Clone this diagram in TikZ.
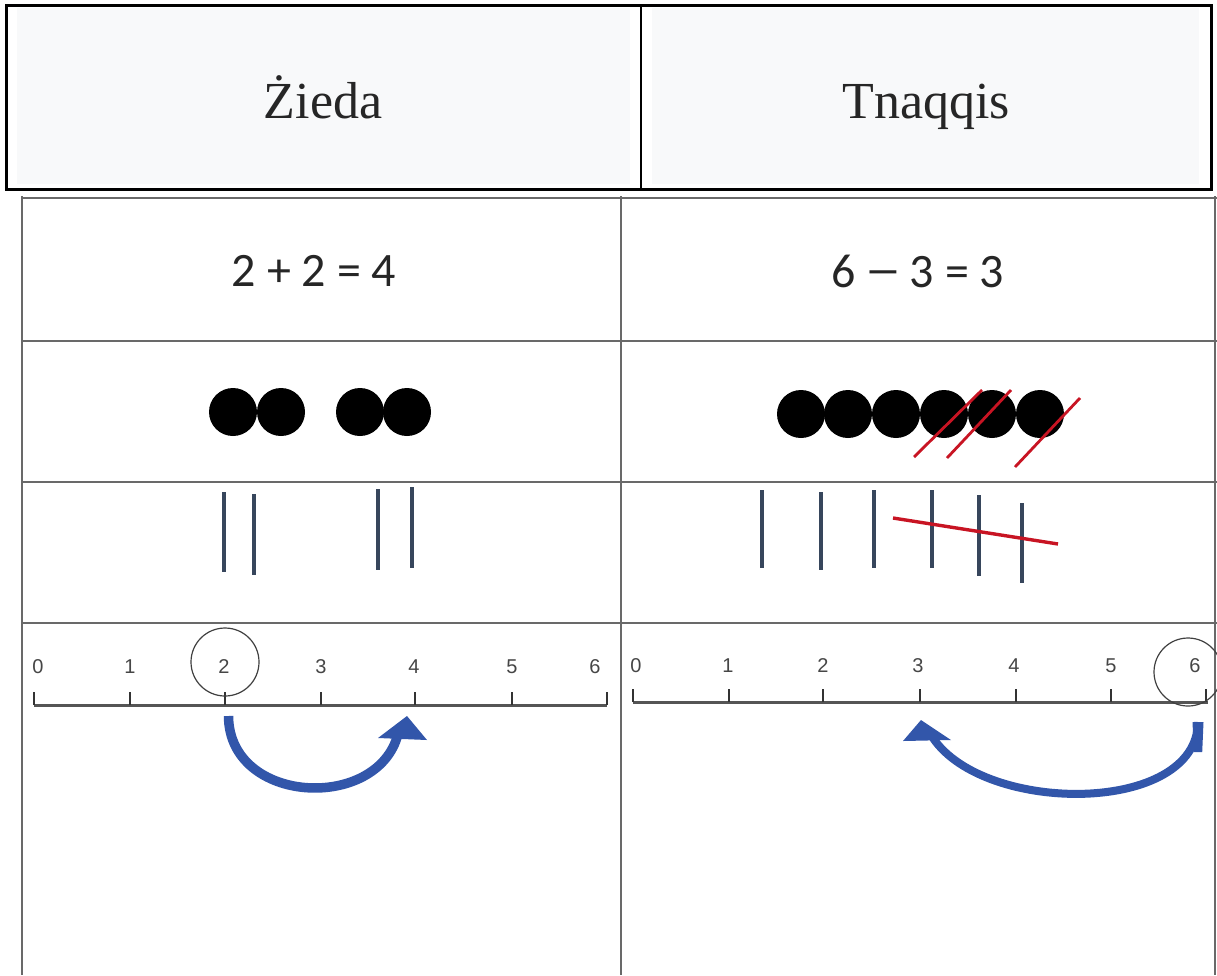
\documentclass[tikz,border=0pt]{standalone}
\usepackage{fontspec}
\usepackage{graphicx}
\setmainfont{Liberation Serif}
\newfontfamily\eqfont{Carlito}
\newfontfamily\nlfont{Liberation Sans}
\definecolor{hdrgray}{RGB}{248,249,250}
\definecolor{tblline}{RGB}{105,105,105}
\definecolor{tally}{RGB}{55,70,92}
\definecolor{strike}{RGB}{200,20,35}
\definecolor{arrowblue}{RGB}{50,86,170}
\definecolor{axisgray}{RGB}{85,85,85}
\definecolor{labgray}{RGB}{70,70,70}
\tikzset{
  hdrtext/.style={font=\fontsize{52}{60}\selectfont, text=black!85, anchor=base},
  eqtext/.style={font=\eqfont\fontsize{48}{56}\selectfont, text=black!85},
  numlab/.style={font=\nlfont\fontsize{20}{24}\selectfont, text=labgray},
  tline/.style={draw=tblline, line width=2pt},
  dot/.style={circle, fill=black, minimum size=48pt, inner sep=0pt},
  tallymark/.style={draw=tally, line width=3.4pt},
  strikeline/.style={draw=strike, line width=2.8pt},
  axisline/.style={draw=axisgray, line width=3pt},
  tickmark/.style={draw=black!80, line width=2pt},
  ring/.style={draw=black!75, line width=1.2pt},
  arrowstroke/.style={draw=arrowblue, line width=9pt},
  arrowbody/.style={fill=arrowblue}
}
\begin{document}
\begin{tikzpicture}[x=1pt,y=-1pt]
\useasboundingbox (0,0) rectangle (1217,975);
\fill[white] (0,0) rectangle (1217,975);
% header
\fill[hdrgray] (17,8) rectangle (630,184);
\fill[hdrgray] (652,8) rectangle (1199,184);
\draw[black, line width=3pt] (6,5) rectangle (1211,189);
\draw[black, line width=2pt] (641,5) -- (641,189);
\node[hdrtext] (h1) at (323,118) {Żieda};
\node[hdrtext] (h2) at (926,118) {Tnaqqis};
% table grid
\draw[tline] (22,198) -- (1217,198);
\draw[tline] (22,341) -- (1217,341);
\draw[tline] (22,482) -- (1217,482);
\draw[tline] (22,623) -- (1217,623);
\draw[tline] (22,196) -- (22,975);
\draw[tline] (621,196) -- (621,975);
\draw[tline] (1215,196) -- (1215,975);
% equations
\node[eqtext] (eq1) at (314,271) {2 + 2 = 4};
\node[eqtext] (eq2) at (918,271) {6 \hspace{-2pt}\scalebox{1.5}[1]{−}\hspace{-2pt} 3 = 3};
% dots left
\node[dot] (dl1) at (233,412) {};
\node[dot] (dl2) at (281,412) {};
\node[dot] (dl3) at (360,412) {};
\node[dot] (dl4) at (407,412) {};
% dots right
\node[dot] (dr1) at (801,414) {};
\node[dot] (dr2) at (848,414) {};
\node[dot] (dr3) at (896,414) {};
\node[dot] (dr4) at (944,414) {};
\node[dot] (dr5) at (992,414) {};
\node[dot] (dr6) at (1040,414) {};
\draw[strikeline] (914,457) -- (982,390);
\draw[strikeline] (947,458) -- (1011,390);
\draw[strikeline] (1015,467) -- (1080,398);
% tallies left
\draw[tallymark] (224,492) -- (224,572);
\draw[tallymark] (254,494) -- (254,575);
\draw[tallymark] (378,489) -- (378,570);
\draw[tallymark] (412,487) -- (412,568);
% tallies right
\draw[tallymark] (762,490) -- (762,568);
\draw[tallymark] (821,492) -- (821,570);
\draw[tallymark] (874,490) -- (874,568);
\draw[tallymark] (932,490) -- (932,568);
\draw[tallymark] (979,495) -- (979,576);
\draw[tallymark] (1022,503) -- (1022,583);
\draw[strikeline, line width=3.4pt] (893,518) -- (1058,544);
% number line left
\coordinate (al0) at (34,705);
\coordinate (al6) at (607,705);
\draw[axisline] (al0) -- (al6);
\foreach \x/\l/\lx in {34/0/38,130/1/130,225/2/224,321/3/321,415/4/414,512/5/512,607/6/595}{
  \draw[tickmark] (\x,705) -- (\x,692);
  \node[numlab] (ll\l) at (\lx,667) {\l};
}
\draw[ring] (225,662) circle (34);
% number line right
\coordinate (ar0) at (633,702);
\coordinate (ar6) at (1208,702);
\draw[axisline] (ar0) -- (ar6);
\foreach \x/\l/\lx in {633/0/636,729/1/728,823/2/823,920/3/918,1016/4/1014,1111/5/1111,1206/6/1195}{
  \draw[tickmark] (\x,702) -- (\x,689);
  \node[numlab] (rl\l) at (\lx,666) {\l};
}
\draw[ring] (1188,672) circle (34);
% arrow left (2 -> 4)
\coordinate (als) at (228.5,716);
\coordinate (ale) at (398,734);
\draw[arrowstroke, line width=9.5pt] (als) .. controls (229,805) and (378,812) .. (ale);
\fill[arrowbody] (407,716) -- (378,738) -- (427,740) -- cycle;
% arrow right (6 -> 3)
\coordinate (ars) at (1198,722);
\coordinate (are) at (933,738);
\fill[arrowbody] (1192.5,722) -- (1203.5,722) -- (1202.2,752) -- (1193.8,752) -- cycle;
\draw[arrowstroke, line width=8pt] (ars) .. controls (1197,815) and (985,815) .. (are);
\fill[arrowbody] (921,720) -- (903,741) -- (951,740) -- cycle;
\end{tikzpicture}
\end{document}
